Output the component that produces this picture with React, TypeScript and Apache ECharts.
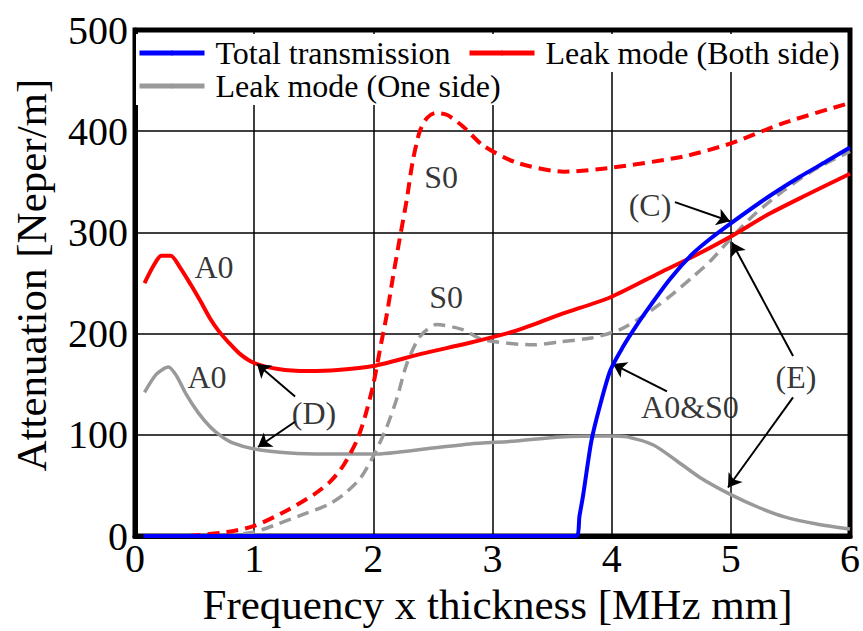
import React, { useEffect, useRef } from "react";
import * as echarts from "echarts";

const FONT = "Liberation Serif";

// Total transmission (blue)
const totalX = [0.07, 3.7, 3.73, 3.76, 3.83, 3.9, 3.99, 4.1, 4.18, 4.29, 4.49, 4.68, 4.83, 5.0, 5.3, 5.58, 5.8, 6.0];
const totalY = [0, 0, 20, 40, 94, 128, 164, 188, 203, 222, 254, 279, 294, 309, 334, 355, 370, 384];

// Leak mode (Both side) A0 (red solid)
const bothA0X = [0.08, 0.16, 0.22, 0.3, 0.38, 0.47, 0.55, 0.63, 0.7, 0.78, 0.88, 1.0, 1.2, 1.45, 1.7, 2.0, 2.4, 2.81, 3.2, 3.57, 3.99, 4.4, 4.68, 5.0, 5.3, 5.6, 6.0];
const bothA0Y = [250, 268, 277, 277, 265, 248, 232, 215, 203, 192, 180, 171, 165, 163, 164, 168, 180, 191, 203, 219, 236, 260, 276, 296, 317, 335, 358];

// Leak mode (Both side) S0 (red dashed)
const bothS0X = [0.45, 0.77, 1.0, 1.27, 1.5, 1.64, 1.75, 1.86, 1.93, 2.0, 2.055, 2.11, 2.165, 2.22, 2.28, 2.33, 2.39, 2.45, 2.52, 2.62, 2.75, 2.92, 3.2, 3.6, 4.0, 4.6, 5.0, 5.44, 6.0];
const bothS0Y = [0, 4, 10, 25, 41, 54, 70, 94, 118, 150, 184, 217, 256, 293, 332, 370, 400, 413, 418, 416, 405, 386, 369, 360, 364, 375, 388, 408, 428];

// Leak mode (One side) A0 (gray solid)
const oneA0X = [0.08, 0.18, 0.28, 0.35, 0.43, 0.53, 0.63, 0.72, 0.82, 1.0, 1.3, 1.6, 2.0, 2.5, 2.81, 3.2, 3.57, 4.0, 4.13, 4.35, 4.55, 4.74, 5.0, 5.24, 5.45, 5.72, 6.0];
const oneA0Y = [142, 160, 167, 158, 140, 122, 108, 99, 92, 86, 82, 81, 81, 87, 91, 94, 98, 99, 98, 90, 74, 58, 41, 28, 19, 12, 7];

// Leak mode (One side) S0 (gray dashed)
const oneS0X = [0.75, 1.0, 1.2, 1.4, 1.62, 1.75, 1.89, 2.0, 2.11, 2.2, 2.28, 2.39, 2.53, 2.75, 2.92, 3.34, 3.57, 3.84, 4.07, 4.26, 4.49, 4.68, 4.83, 5.0, 5.2, 5.44, 5.7, 6.0];
const oneS0Y = [0, 4, 12, 21, 31, 41, 57, 79, 107, 137, 170, 197, 209, 204, 194, 189, 192, 196, 204, 217, 237, 256, 272, 294, 318, 341, 362, 380];

// Axis ticks
const xTicks = [0, 1, 2, 3, 4, 5, 6];
const yTicks = [0, 100, 200, 300, 400, 500];

// Annotation labels: [x, y, text]
const annLabels: [number, number, string][] = [
  [0.663, 266, "A0"],
  [0.604, 157, "A0"],
  [2.568, 355, "S0"],
  [2.61, 236, "S0"],
  [1.502, 122, "(D)"],
  [4.322, 327, "(C)"],
  [4.657, 128, "A0&S0"],
  [5.547, 157, "(E)"],
];

// Annotation arrows: [fromX, fromY, toX, toY]
const annArrows: [number, number, number, number][] = [
  [1.343, 138, 1.024, 170],
  [1.343, 113, 1.032, 88],
  [4.531, 330, 4.993, 311],
  [4.464, 143, 4.011, 170],
  [5.522, 178, 5.01, 290],
  [5.522, 137, 4.976, 48],
];

const zip = (xs: number[], ys: number[]) => xs.map((x, i) => [x, ys[i]]);

const NAME_TOTAL = "Total transmission";
const NAME_BOTH = "Leak mode (Both side)";
const NAME_ONE = "Leak mode (One side)";

const lineCommon = {
  type: "line",
  showSymbol: false,
  symbol: "none",
  smooth: 0.25,
};

export default function App() {
  const ref = useRef<HTMLDivElement>(null);
  useEffect(() => {
    if (!ref.current) return;
    const chart = echarts.init(ref.current, null, { renderer: "svg" });
    const legendText = { fontFamily: FONT, fontSize: 32, color: "#000", padding: [0, 0, 0, 6] };
    const legendCommon = {
      orient: "horizontal",
      itemWidth: 65,
      itemHeight: 6,
      backgroundColor: "#fff",
      padding: [3, 6, 3, 1],
      selectedMode: false,
      textStyle: legendText,
      lineStyle: { width: 5, type: "solid" },
    };
    chart.setOption({
      animation: false,
      backgroundColor: "#fff",
      grid: {
        left: 135,
        right: 13,
        top: 30,
        bottom: 94,
        show: true,
        borderColor: "#000",
        borderWidth: 5,
        backgroundColor: "transparent",
      },
      legend: [
        { ...legendCommon, left: 136, top: 34, data: [NAME_TOTAL] },
        { ...legendCommon, left: 466, top: 34, data: [NAME_BOTH] },
        { ...legendCommon, left: 136, top: 67, data: [NAME_ONE] },
      ],
      xAxis: {
        type: "value",
        min: xTicks[0],
        max: xTicks[xTicks.length - 1],
        interval: 1,
        name: "Frequency x thickness [MHz mm]",
        nameLocation: "middle",
        nameGap: 44,
        nameTextStyle: { fontFamily: FONT, fontSize: 43, color: "#000", padding: [0, 0, 0, 10] },
        axisLine: { show: true, lineStyle: { color: "#000", width: 5 } },
        axisTick: { show: false },
        axisLabel: { fontFamily: FONT, fontSize: 40, color: "#000", margin: 2 },
        splitLine: { show: true, lineStyle: { color: "#000", width: 1.5 } },
      },
      yAxis: {
        type: "value",
        min: yTicks[0],
        max: yTicks[yTicks.length - 1],
        interval: 100,
        name: "Attenuation [Neper/m]",
        nameLocation: "middle",
        nameGap: 82,
        nameTextStyle: { fontFamily: FONT, fontSize: 43, color: "#000", padding: [0, 0, 0, 16] },
        axisLine: { show: true, lineStyle: { color: "#000", width: 5 } },
        axisTick: { show: false },
        axisLabel: { fontFamily: FONT, fontSize: 40, color: "#000", margin: 7 },
        splitLine: { show: true, lineStyle: { color: "#000", width: 1.5 } },
      },
      series: [
        {
          ...lineCommon,
          name: NAME_TOTAL,
          data: zip(totalX, totalY),
          z: 5,
          lineStyle: { color: "#0000ff", width: 4 },
          itemStyle: { color: "#0000ff" },
        },
        {
          ...lineCommon,
          name: NAME_BOTH,
          data: zip(bothA0X, bothA0Y),
          z: 4,
          lineStyle: { color: "#ff0000", width: 4 },
          itemStyle: { color: "#ff0000" },
        },
        {
          ...lineCommon,
          name: NAME_ONE,
          data: zip(oneA0X, oneA0Y),
          z: 3,
          lineStyle: { color: "#999999", width: 3.5 },
          itemStyle: { color: "#999999" },
        },
        {
          ...lineCommon,
          name: NAME_BOTH,
          data: zip(bothS0X, bothS0Y),
          z: 4,
          lineStyle: { color: "#ff0000", width: 4, type: [12, 7] },
          itemStyle: { color: "#ff0000" },
        },
        {
          ...lineCommon,
          name: NAME_ONE,
          data: zip(oneS0X, oneS0Y),
          z: 3,
          lineStyle: { color: "#999999", width: 3.5, type: [12, 7] },
          itemStyle: { color: "#999999" },
        },
        {
          name: "annotations",
          type: "scatter",
          data: annLabels,
          symbolSize: 0,
          silent: true,
          z: 6,
          label: {
            show: true,
            position: "inside",
            formatter: (p: any) => p.data[2],
            fontFamily: FONT,
            fontSize: 32,
            color: "#000",
          },
          markLine: {
            silent: true,
            symbol: ["none", "arrow"],
            symbolSize: 13,
            label: { show: false },
            lineStyle: { color: "#000", width: 2, type: "solid" },
            data: annArrows.map(([x1, y1, x2, y2]) => [{ coord: [x1, y1] }, { coord: [x2, y2] }]),
          },
        },
      ],
    });
    return () => chart.dispose();
  }, []);
  return <div ref={ref} style={{ width: 863, height: 631, position: "absolute", left: 0, top: 0 }} />;
}
